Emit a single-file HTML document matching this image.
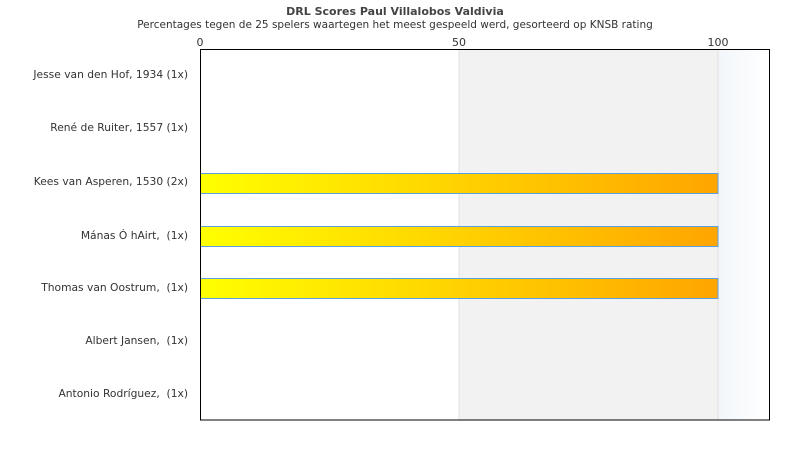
<!DOCTYPE html>
<html><head><meta charset="utf-8"><style>
body{margin:0;background:#fff;width:790px;height:450px;overflow:hidden;font-family:"DejaVu Sans","Liberation Sans",sans-serif;}
</style></head><body>
<svg width="790" height="450" xmlns="http://www.w3.org/2000/svg" font-family="DejaVu Sans, Liberation Sans, sans-serif">
<defs><linearGradient id="g" x1="0" x2="1" y1="0" y2="0"><stop offset="0" stop-color="#ffff00"/><stop offset="1" stop-color="#ffa500"/></linearGradient>
<linearGradient id="b" x1="0" x2="1"><stop offset="0" stop-color="#f2f6fa"/><stop offset="1" stop-color="#ffffff"/></linearGradient></defs>
<text x="395" y="15" text-anchor="middle" font-size="11" font-weight="bold" fill="#444">DRL Scores Paul Villalobos Valdivia</text>
<text x="395" y="28" text-anchor="middle" font-size="10.5" fill="#333">Percentages tegen de 25 spelers waartegen het meest gespeeld werd, gesorteerd op KNSB rating</text>
<rect x="459" y="49.5" width="259" height="370" fill="#f2f2f2"/>
<rect x="718" y="49.5" width="52" height="370" fill="url(#b)"/>
<line x1="459" y1="50" x2="459" y2="420" stroke="#e0e0e0"/>
<line x1="718" y1="50" x2="718" y2="420" stroke="#e0e0e0"/>
<g font-size="11" fill="#333" text-anchor="middle">
<text x="200" y="46">0</text><text x="459" y="46">50</text><text x="718" y="46">100</text></g>
<g fill="url(#g)" stroke="#5aa0e0" stroke-width="1">
<rect x="200.5" y="173.5" width="517.5" height="20"/>
<rect x="200.5" y="226.5" width="517.5" height="20"/>
<rect x="200.5" y="278.5" width="517.5" height="20"/></g>
<rect x="200.5" y="49.5" width="569" height="370.5" fill="none" stroke="#000"/>
<g font-size="10.7" fill="#333" text-anchor="end">
<text x="188" y="78">Jesse van den Hof, 1934 (1x)</text>
<text x="188" y="131">René de Ruiter, 1557 (1x)</text>
<text x="188" y="185">Kees van Asperen, 1530 (2x)</text>
<text x="188" y="239">Mánas Ó hAirt,&#160; (1x)</text>
<text x="188" y="291">Thomas van Oostrum,&#160; (1x)</text>
<text x="188" y="344">Albert Jansen,&#160; (1x)</text>
<text x="188" y="397">Antonio Rodríguez,&#160; (1x)</text></g>
</svg>
</body></html>
